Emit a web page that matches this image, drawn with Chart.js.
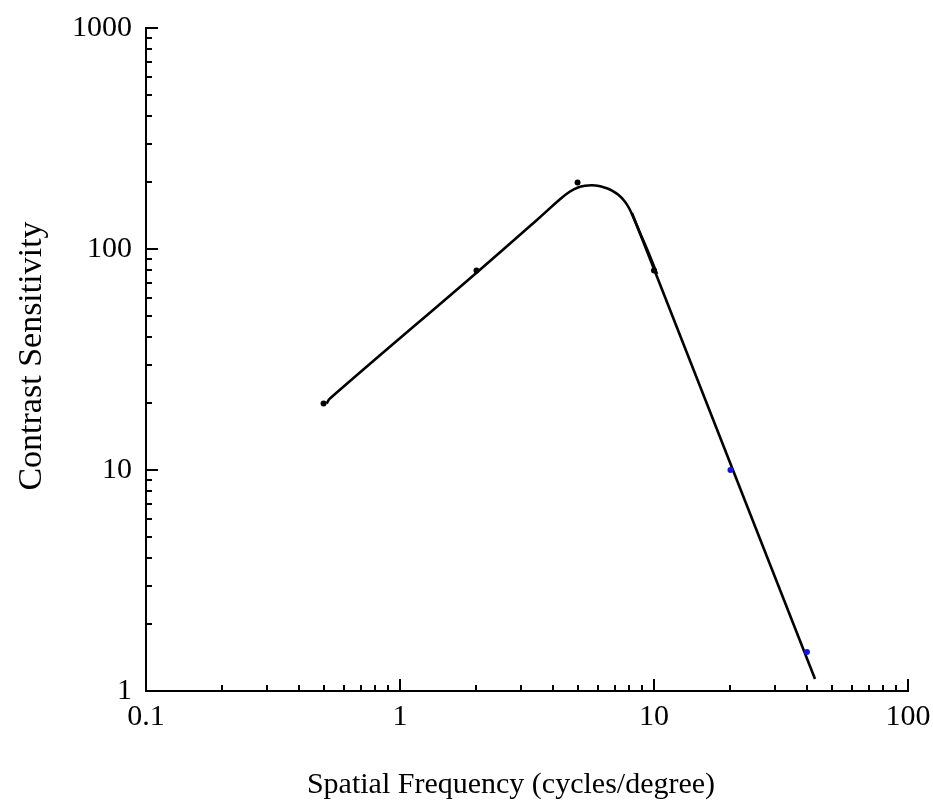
<!DOCTYPE html>
<html>
<head>
<meta charset="utf-8">
<script src="https://cdn.jsdelivr.net/npm/chart.js@4/dist/chart.umd.min.js"></script>
<style>
html,body{margin:0;padding:0;background:#fff;}
#wrap{width:933px;height:807px;}
</style>
</head>
<body>
<div id="wrap"><canvas id="c" width="933" height="807"></canvas></div>
<script>
// Measured sensitivities (black dots)
const measuredFreq = [0.5, 2, 5, 10];
const measuredSens = [20, 80, 200, 80];
// Additional measurements (blue dots)
const extraFreq = [20, 40];
const extraSens = [10, 1.5];
// Fitted smooth curve
const curveFreq = [0.514, 0.530, 2.028, 3.46, 4.265, 4.670, 5.021, 5.350, 5.700, 6.073, 6.471, 6.833, 7.217, 7.619, 7.973, 8.346, 8.810, 9.385, 10.28];
const curveSens = [20.0, 21.06, 79.1, 135.3, 167.9, 182.0, 189.8, 193.2, 194.2, 192.8, 188.8, 183.9, 176.4, 165.8, 153.3, 136.7, 118.1, 100, 77.1];
// Straight high-frequency fall-off line
const lineFreq = [8.19, 43.05];
const lineSens = [145.5, 1.133];
// Tick labels (powers of ten)
const xTickLabels = ['0.1', '1', '10', '100'];
const yTickLabels = ['1', '10', '100', '1000'];
const xTitle = 'Spatial Frequency (cycles/degree)';
const yTitle = 'Contrast Sensitivity';

const FONT = '"Liberation Serif", "Times New Roman", serif';
const toPts = (xs, ys) => xs.map((x, i) => ({x: x, y: ys[i]}));
const isMajor = v => Math.abs(Math.log10(v) - Math.round(Math.log10(v))) < 1e-6;

const inwardTicks = {
  id: 'inwardTicks',
  afterDraw(chart) {
    const ctx = chart.ctx, xs = chart.scales.x, ys = chart.scales.y, a = chart.chartArea;
    ctx.save();
    ctx.strokeStyle = '#000';
    ctx.lineWidth = 2;
    ctx.lineCap = 'butt';
    const vals = (min, max) => {
      const out = [];
      for (let e = Math.round(Math.log10(min)); e <= Math.round(Math.log10(max)); e++) {
        for (let m = 1; m <= 9; m++) {
          const v = m * Math.pow(10, e);
          if (v >= min * 0.999 && v <= max * 1.001) out.push(v);
        }
      }
      return out;
    };
    vals(xs.min, xs.max).forEach(v => {
      const px = Math.round(xs.getPixelForValue(v));
      const len = isMajor(v) ? 12 : 6;
      ctx.beginPath(); ctx.moveTo(px, a.bottom); ctx.lineTo(px, a.bottom - len); ctx.stroke();
    });
    vals(ys.min, ys.max).forEach(v => {
      const py = Math.round(ys.getPixelForValue(v));
      const len = isMajor(v) ? 12 : 6;
      ctx.beginPath(); ctx.moveTo(a.left, py); ctx.lineTo(a.left + len, py); ctx.stroke();
    });
    // axis titles
    ctx.fillStyle = '#000';
    ctx.textAlign = 'center';
    ctx.textBaseline = 'alphabetic';
    ctx.font = '30px ' + FONT;
    ctx.fillText(xTitle, 511, 793);
    ctx.font = '34px ' + FONT;
    ctx.translate(41, 356);
    ctx.rotate(-Math.PI / 2);
    ctx.fillText(yTitle, 0, 0);
    ctx.restore();
  }
};

const zeroPad = s => { s.paddingLeft = 0; s.paddingRight = 0; s.paddingTop = 0; s.paddingBottom = 0; };

new Chart(document.getElementById('c'), {
  type: 'scatter',
  data: {
    datasets: [
      {
        data: toPts(curveFreq, curveSens),
        showLine: true,
        pointRadius: 0,
        borderColor: '#000',
        borderWidth: 2.6,
        tension: 0.4,
        fill: false,
        order: 3
      },
      {
        data: toPts(lineFreq, lineSens),
        showLine: true,
        pointRadius: 0,
        borderColor: '#000',
        borderWidth: 2.6,
        tension: 0,
        fill: false,
        order: 2
      },
      {
        data: toPts(measuredFreq, measuredSens),
        showLine: false,
        pointRadius: 3,
        pointBackgroundColor: '#000',
        pointBorderWidth: 0,
        order: 1
      },
      {
        data: toPts(extraFreq, extraSens),
        showLine: false,
        pointRadius: 3,
        pointBackgroundColor: '#1414e6',
        pointBorderWidth: 0,
        order: 1
      }
    ]
  },
  options: {
    responsive: false,
    devicePixelRatio: 1,
    animation: false,
    layout: {padding: {left: 0, top: 28, right: 25, bottom: 0}},
    plugins: {legend: {display: false}, tooltip: {enabled: false}},
    scales: {
      x: {
        type: 'logarithmic',
        position: 'bottom',
        min: 0.1,
        max: 100,
        grid: {display: false, drawTicks: false},
        border: {display: true, color: '#000', width: 2},
        ticks: {
          autoSkip: false,
          maxRotation: 0,
          padding: 8,
          color: '#000',
          font: {family: FONT, size: 30},
          callback: v => isMajor(v) ? xTickLabels[Math.round(Math.log10(v)) + 1] : ''
        },
        afterFit: s => { s.height = 116; zeroPad(s); }
      },
      y: {
        type: 'logarithmic',
        position: 'left',
        min: 1,
        max: 1000,
        grid: {display: false, drawTicks: false},
        border: {display: true, color: '#000', width: 2},
        ticks: {
          autoSkip: false,
          padding: 14,
          color: '#000',
          font: {family: FONT, size: 30},
          callback: v => isMajor(v) ? yTickLabels[Math.round(Math.log10(v))] : ''
        },
        afterFit: s => { s.width = 146; zeroPad(s); }
      }
    }
  },
  plugins: [inwardTicks]
});
</script>
</body>
</html>
